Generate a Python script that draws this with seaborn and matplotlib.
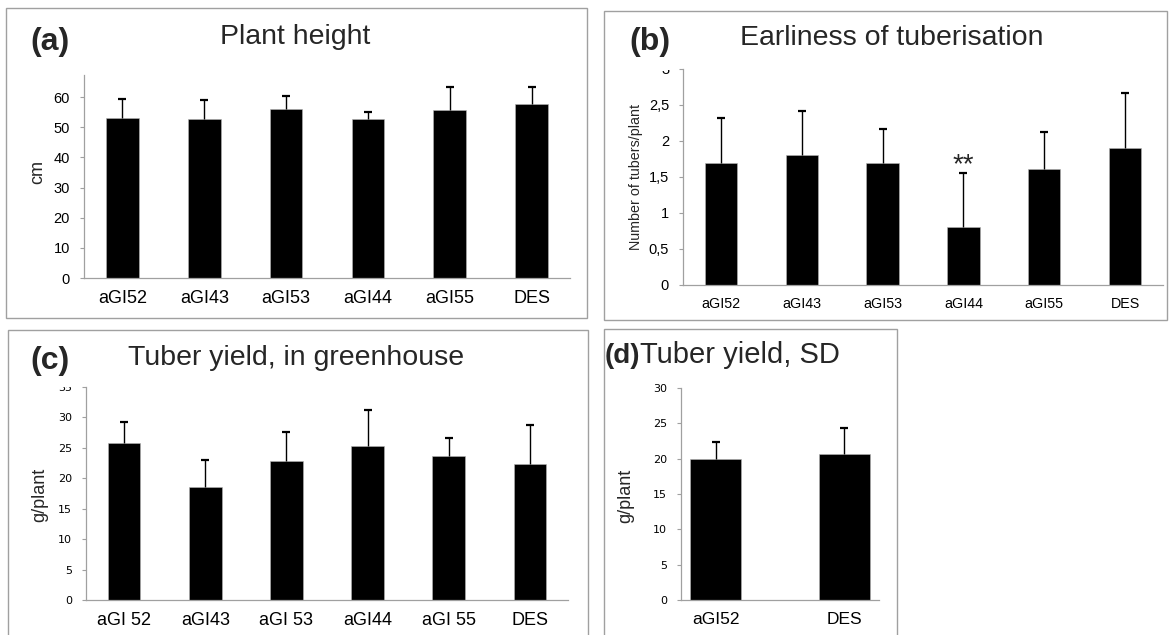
import numpy as np
import pandas as pd
import matplotlib
matplotlib.use('Agg')
import matplotlib.pyplot as plt
from matplotlib.patches import Rectangle
from matplotlib.transforms import Bbox, TransformedBbox
import seaborn as sns

# means and upper SD
lines_a = ['aGI52', 'aGI43', 'aGI53', 'aGI44', 'aGI55', 'DES']
height_cm = [53.0, 52.6, 56.1, 52.6, 55.8, 57.7]
height_sd = [6.2, 6.3, 4.3, 2.4, 7.4, 5.5]

lines_b = ['aGI52', 'aGI43', 'aGI53', 'aGI44', 'aGI55', 'DES']
tubers = [1.69, 1.81, 1.69, 0.81, 1.61, 1.90]
tubers_sd = [0.63, 0.60, 0.48, 0.75, 0.52, 0.77]
b_ticks = [0, 0.5, 1, 1.5, 2, 2.5, 3]
b_ticklabels = ['0', '0,5', '1', '1,5', '2', '2,5', '3']

lines_c = ['aGI 52', 'aGI43', 'aGI 53', 'aGI44', 'aGI 55', 'DES']
yield_gh = [25.8, 18.5, 22.8, 25.3, 23.6, 22.4]
yield_gh_sd = [3.4, 4.5, 4.8, 5.9, 3.1, 6.3]

lines_d = ['aGI52', 'DES']
yield_sd = [20.0, 20.6]
yield_sd_sd = [2.35, 3.7]

W, H = 1172, 635
GREY = '#a0a0a0'

sns.set_style('white')
plt.rcParams['font.family'] = ['Liberation Sans', 'DejaVu Sans']

fig = plt.figure(figsize=(W / 100, H / 100), dpi=100)


def px_axes(l, t, r, b):
    return fig.add_axes([l / W, 1 - b / H, (r - l) / W, (b - t) / H])


def frame(l, t, r, b):
    fig.patches.append(Rectangle((l / W, 1 - b / H), (r - l) / W, (b - t) / H,
                                 transform=fig.transFigure, fill=False,
                                 ec=GREY, lw=1.0))


def ftext(x, y, s, **kw):
    return fig.text(x / W, 1 - y / H, s, **kw)


def bars(ax, names, vals, sd, xsize, ysize, yfont='Liberation Sans'):
    df = pd.DataFrame({'line': names, 'val': vals})
    sns.barplot(data=df, x='line', y='val', color='black', saturation=1,
                width=0.4, edgecolor='#b5b5b5', linewidth=0.4,
                errorbar=None, ax=ax)
    # one-sided SD bars: stem up from the mean, cap only at the top
    xs = np.arange(len(vals))
    tops = np.array(vals) + np.array(sd)
    ax.errorbar(xs, vals, yerr=[np.zeros(len(sd)), sd], fmt='none',
                ecolor='black', elinewidth=1.0, capsize=0)
    ax.plot(xs, tops, linestyle='none', marker='_', markersize=5.5,
            markeredgewidth=1.6, color='black')
    ax.set_xlabel('')
    ax.set_ylabel('')
    sns.despine(ax=ax)
    for s in ['left', 'bottom']:
        ax.spines[s].set_color(GREY)
        ax.spines[s].set_linewidth(0.9)
    ax.tick_params(axis='x', bottom=False, length=0, labelsize=xsize, pad=8.5,
                   colors='black')
    ax.tick_params(axis='y', left=True, direction='out', length=3, width=0.8,
                   color=GREY, labelcolor='black', labelsize=ysize, pad=7,
                   labelfontfamily=yfont)


def clip_top_label(ax, shift_px):
    top = ax.get_position().y1 - shift_px / H
    lab = ax.yaxis.get_major_ticks()[-1].label1
    lab.set_clip_on(True)
    lab.set_clip_box(TransformedBbox(Bbox([[0, 0], [1, top]]), fig.transFigure))


# panel frames
frame(6, 8, 587, 318)
frame(604, 11, 1167, 320)
frame(8, 330, 588, 645)
frame(604, 329, 897, 645)

# (a) plant height
ax_a = px_axes(84, 75, 570, 278)
bars(ax_a, lines_a, height_cm, height_sd, 13, 10.5)
ax_a.set_ylim(0, 67.3)
ax_a.set_yticks(range(0, 61, 10))
ftext(30, 50, '(a)', fontsize=23, fontweight='bold', ha='left', va='baseline')
ftext(295, 44, 'Plant height', fontsize=20.5, ha='center', va='baseline')
ftext(38, 172, 'cm', fontsize=13, rotation=90, ha='center', va='center')

# (b) earliness of tuberisation
ax_b = px_axes(683, 69, 1163, 285)
bars(ax_b, lines_b, tubers, tubers_sd, 10.3, 10.5)
ax_b.set_ylim(0, 3)
ax_b.set_yticks(b_ticks)
ax_b.set_yticklabels(b_ticklabels)
ax_b.tick_params(axis='y', labelfontfamily='Liberation Sans')
ax_b.text(3, tubers[3] + tubers_sd[3] + 0.01, '**', fontsize=20,
          ha='center', va='baseline')
ftext(629, 50, '(b)', fontsize=23, fontweight='bold', ha='left', va='baseline')
ftext(892, 45, 'Earliness of tuberisation', fontsize=20.5, ha='center', va='baseline')
ftext(636, 177, 'Number of tubers/plant', fontsize=10.3, rotation=90,
      ha='center', va='center')

# (c) tuber yield in greenhouse
ax_c = px_axes(86, 387, 568, 600)
bars(ax_c, lines_c, yield_gh, yield_gh_sd, 13, 8, yfont='DejaVu Sans')
ax_c.set_ylim(0, 35)
ax_c.set_yticks(range(0, 36, 5))
ftext(30, 369, '(c)', fontsize=23, fontweight='bold', ha='left', va='baseline')
ftext(296, 365, 'Tuber yield, in greenhouse', fontsize=20.5, ha='center', va='baseline')
ftext(40, 495, 'g/plant', fontsize=13, rotation=90, ha='center', va='center')

# (d) tuber yield, short day
ax_d = px_axes(681, 388, 879, 600)
bars(ax_d, lines_d, yield_sd, yield_sd_sd, 12.5, 8, yfont='DejaVu Sans')
ax_d.set_ylim(0, 30)
ax_d.set_yticks(range(0, 31, 5))
ftext(605, 363, '(d)', fontsize=20, fontweight='bold', ha='left', va='baseline')
ftext(640, 363, 'Tuber yield, SD', fontsize=21, ha='left', va='baseline')
ftext(626, 496, 'g/plant', fontsize=13, rotation=90, ha='center', va='center')

clip_top_label(ax_b, 1.0)
clip_top_label(ax_c, 0.0)

fig.savefig('out.png', dpi=100)
